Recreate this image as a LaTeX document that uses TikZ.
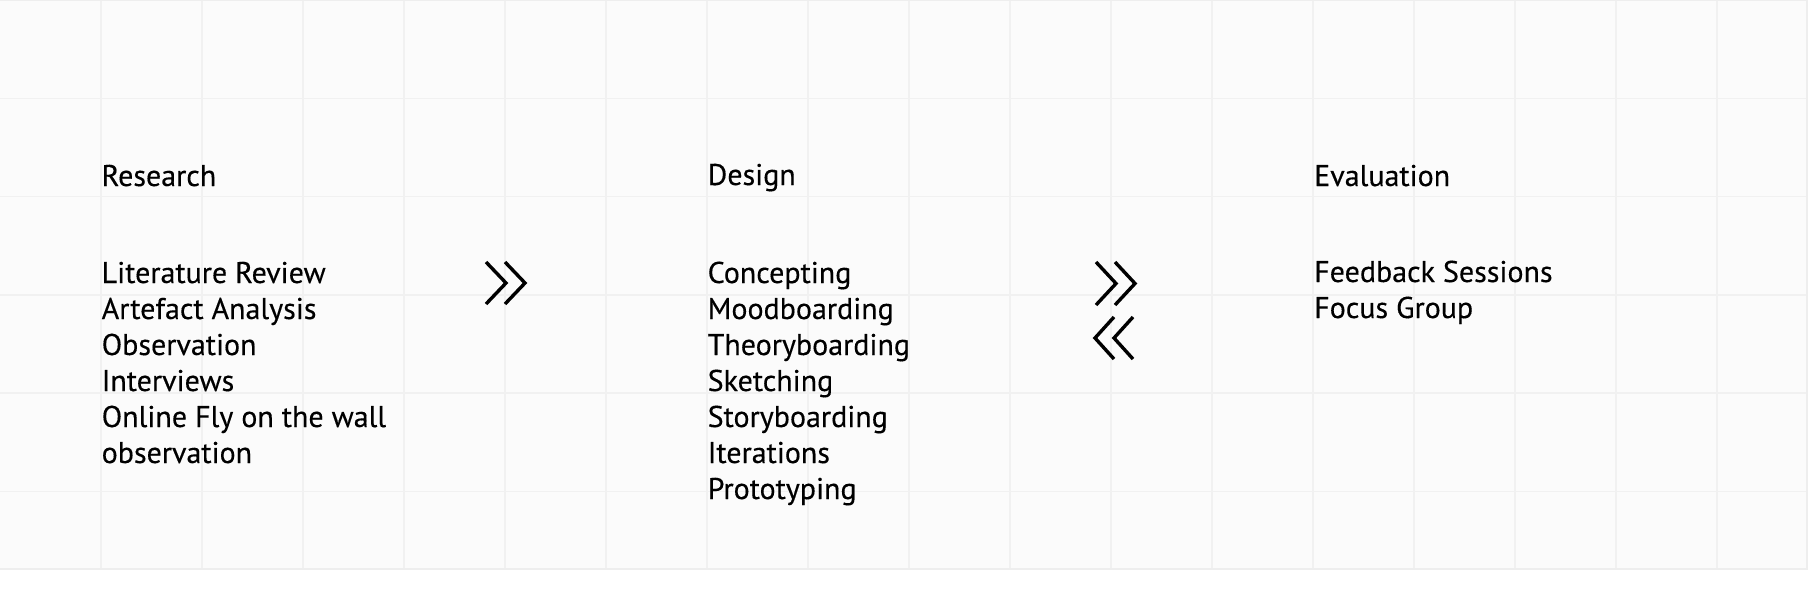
\documentclass[tikz,border=0pt]{standalone}
\usepackage{fontspec}
\setmainfont{PT Sans}
\newfontface\lblfont{PT Sans}[FakeBold=0.3]
\definecolor{gridfill}{HTML}{FBFBFB}
\definecolor{gridline}{HTML}{F1F1F1}
\definecolor{gridedge}{HTML}{EEEEEE}
\tikzset{
  label/.style={anchor=base west, inner sep=0pt, font=\lblfont\fontsize{30}{36}\selectfont, text=black},
  chev/.style={line width=3.4pt, line join=miter, line cap=butt, black},
}
\begin{document}
\begin{tikzpicture}[x=1pt,y=-1pt]
\useasboundingbox (0,0) rectangle (1819,590);
\fill[white] (0,0) rectangle (1819,590);
% grid background
\fill[gridfill] (0,0) rectangle (1807,569);
\foreach \i in {1,...,17} \draw[gridline, line width=1.3pt] (101*\i,0) -- (101*\i,569);
\foreach \j in {0,...,4} \draw[gridline, line width=1.3pt] (0,98.5+98.2*\j) -- (1807,98.5+98.2*\j);
\draw[gridedge, line width=1.2pt] (0,0.5) -- (1807,0.5);
\draw[gridedge, line width=1.2pt] (1807,0) -- (1807,569) -- (0,569);
% headings
\node[label] (research) at (101.5,186) {Research};
\node[label] (design) at (707.5,185) {Design};
\node[label] (evaluation) at (1314,186) {Evaluation};
% lists
\foreach \t [count=\k] in {Literature Review,Artefact Analysis,Observation,Interviews,Online Fly on the wall,observation}
  \node[label] (r\k) at (101.5,247+36*\k) {\t};
\foreach \t [count=\k] in {Concepting,Moodboarding,Theoryboarding,Sketching,Storyboarding,Iterations,Prototyping}
  \node[label] (d\k) at (707.5,247+36*\k) {\t};
\foreach \t [count=\k] in {Feedback Sessions,Focus Group}
  \node[label] (e\k) at (1314,246+36*\k) {\t};
% chevrons
\draw[chev] (486,262) -- (506,283) -- (486,304);
\draw[chev] (505,262) -- (525,283) -- (505,304);
\draw[chev] (1096,262) -- (1116,283.5) -- (1096,305);
\draw[chev] (1115,262) -- (1135,283.5) -- (1115,305);
\draw[chev] (1114,317) -- (1095,338) -- (1114,359);
\draw[chev] (1133,317) -- (1114,338) -- (1133,359);
\end{tikzpicture}
\end{document}
